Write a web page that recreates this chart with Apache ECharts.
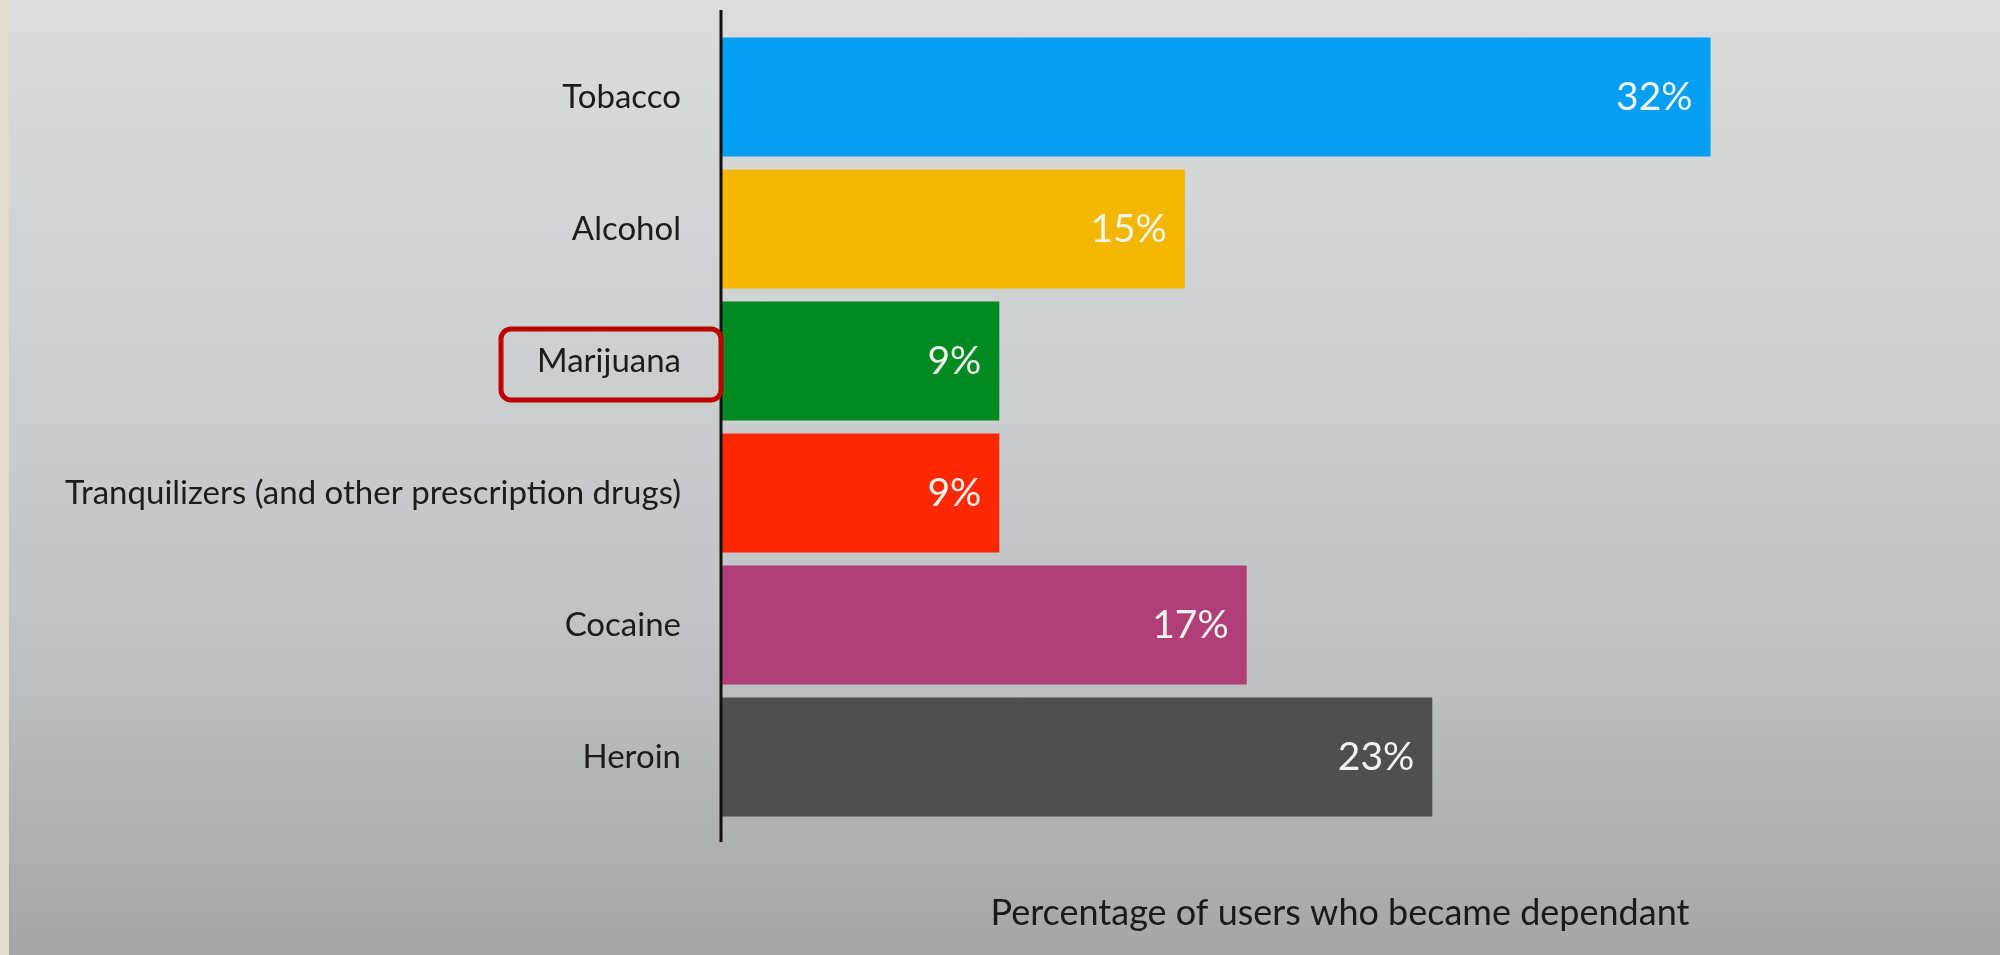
<!DOCTYPE html>
<html><head><meta charset="utf-8">
<script src="https://cdn.jsdelivr.net/npm/echarts@6/dist/echarts.min.js"></script>
<style>html,body{margin:0;padding:0;}#c{width:2000px;height:955px;background:linear-gradient(180deg,#dcdcdc 0%,#cdd1d2 35%,#c1c4c5 65%,#a6a6a6 100%);}</style>
</head><body><div id="c"></div>
<script>
const categories = ["Tobacco","Alcohol","Marijuana","Tranquilizers (and other prescription drugs)","Cocaine","Heroin"];
const values = [32,15,9,9,17,23];
const colors = ["#049ef2","#f4b700","#008a1f","#ff2800","#b03f77","#4f4f4f"];
const axisTitle = "Percentage of users who became dependant";
const highlighted = "Marijuana";

const chart = echarts.init(document.getElementById('c'));
const font = 'Lato';
chart.setOption({
  backgroundColor: 'transparent',
  animation: false,
  grid: {left: 721, right: 42, top: 31, bottom: 132},
  xAxis: {
    type: 'value', min: 0, max: 40,
    axisLine: {show: false}, axisTick: {show: false}, axisLabel: {show: false}, splitLine: {show: false}
  },
  yAxis: {
    type: 'category', inverse: true, data: categories,
    axisLine: {show: false}, axisTick: {show: false},
    axisLabel: {color: '#1c1c1c', fontSize: 33, fontFamily: font, margin: 40, padding: [0, 0, 6, 0]}
  },
  series: [{
    type: 'bar', barCategoryGap: '10%',
    data: values.map((v, i) => ({value: v, itemStyle: {color: colors[i]}})),
    label: {show: true, position: 'insideRight', distance: 18, color: '#eef4ee', fontSize: 39, fontFamily: font, formatter: '{c}%', padding: [0, 0, 4, 0]}
  }],
  graphic: [
    {type: 'rect', left: 0, top: 0, shape: {width: 9, height: 955}, style: {fill: '#e2d9cf'}, z: 0},
    {type: 'line', shape: {x1: 721, y1: 10, x2: 721, y2: 842}, style: {stroke: '#111', lineWidth: 3}, z: 10},
    {type: 'rect', shape: {x: 501, y: 329, width: 220, height: 71, r: 10}, style: {fill: 'none', stroke: '#c00000', lineWidth: 5}, z: 10},
    {type: 'text', x: 1340, y: 913, style: {text: axisTitle, fill: '#1a1a1a', fontSize: 36, fontFamily: font, align: 'center', verticalAlign: 'middle'}, z: 10}
  ]
});
</script></body></html>
